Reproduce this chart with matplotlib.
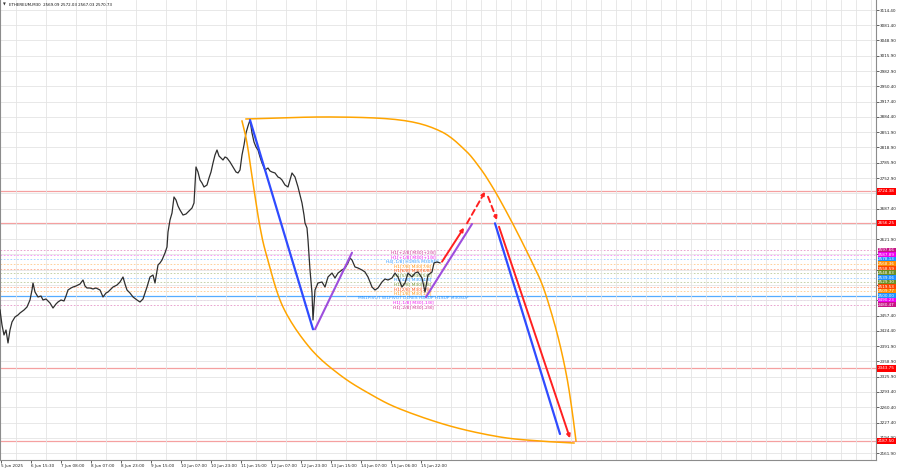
import matplotlib
matplotlib.use("Agg")
import matplotlib.pyplot as plt
import numpy as np
from matplotlib.transforms import blended_transform_factory

# ---------------- data ----------------
bar_x = [0, 2, 4, 6, 8, 10, 12, 15, 18, 20, 24, 27, 30, 32, 33, 35, 38, 41, 43, 46, 50, 53, 56, 58, 61, 64, 66,
         68, 71, 73, 76, 80, 83, 85, 87, 90, 93, 96, 100, 103, 106, 108, 111, 113, 117, 120, 123, 125, 127, 130,
         133, 137, 140, 143, 145, 147, 150, 153, 155, 158, 160, 162, 165, 167, 168, 170, 172, 174, 176, 178, 180,
         183, 186, 189, 192, 194, 195, 196, 198, 200, 202, 204, 207, 209, 211, 213, 215, 217, 219, 221, 223, 225,
         227, 230, 233, 236, 238, 240, 242, 244, 246, 248, 250, 252, 254, 256, 258, 260, 262, 265, 268, 270, 272,
         275, 278, 280, 282, 285, 288, 290, 292, 295, 298, 300, 302, 304, 305, 307, 308, 310, 312, 313, 315, 318,
         322, 325, 328, 332, 335, 338, 342, 345, 348, 350, 352, 355, 358, 362, 365, 368, 372, 375, 378, 382, 385,
         388, 392, 395, 398, 402, 405, 408, 412, 415, 418, 422, 425, 428, 432, 434, 437, 440]
close = [2469.4, 2437.2, 2415.7, 2426.4, 2398.5, 2426.4, 2443.6, 2454.4, 2458.7, 2463.0, 2469.4, 2475.9, 2490.9,
         2512.4, 2527.5, 2508.1, 2497.4, 2499.5, 2490.9, 2493.1, 2484.4, 2473.7, 2482.3, 2486.6, 2490.9, 2488.8,
         2499.5, 2512.4, 2516.7, 2518.8, 2521.0, 2525.3, 2533.9, 2521.0, 2516.7, 2516.7, 2514.6, 2516.7, 2512.4,
         2497.4, 2505.9, 2508.1, 2514.6, 2518.8, 2523.1, 2529.6, 2540.4, 2525.3, 2512.4, 2505.9, 2497.4, 2490.9,
         2486.6, 2493.1, 2505.9, 2518.8, 2540.4, 2544.6, 2527.5, 2566.2, 2570.5, 2576.9, 2592.0, 2604.9, 2637.1,
         2662.9, 2677.9, 2712.4, 2705.9, 2693.0, 2684.4, 2673.6, 2675.8, 2682.3, 2688.7, 2699.4, 2738.2, 2776.9,
         2766.1, 2748.9, 2742.5, 2733.9, 2738.2, 2753.2, 2766.1, 2785.4, 2802.6, 2813.4, 2800.5, 2796.2, 2791.9,
         2798.4, 2796.2, 2787.6, 2776.9, 2766.1, 2764.0, 2770.4, 2802.6, 2824.1, 2849.9, 2865.0, 2877.9, 2849.9,
         2830.6, 2819.9, 2813.4, 2798.4, 2785.4, 2770.4, 2774.7, 2768.3, 2766.1, 2764.0, 2755.3, 2753.2, 2748.9,
         2738.2, 2733.9, 2748.9, 2764.0, 2755.3, 2733.9, 2716.6, 2699.4, 2673.6, 2656.5, 2645.7, 2619.9, 2555.4,
         2505.9, 2447.9, 2512.4, 2527.5, 2529.6, 2518.8, 2540.4, 2548.9, 2538.2, 2548.9, 2555.4, 2559.7, 2570.5,
         2581.2, 2576.9, 2561.9, 2559.7, 2555.4, 2551.1, 2540.4, 2518.8, 2512.4, 2516.7, 2529.6, 2536.1, 2533.9,
         2538.2, 2548.9, 2540.4, 2518.8, 2527.5, 2548.9, 2540.4, 2548.9, 2551.1, 2538.2, 2508.1, 2544.6, 2551.1,
         2570.5, 2572.6, 2570.7]

time_label_pos = [1, 31, 61, 91, 121, 151, 181, 211, 241, 271, 301, 331, 361, 391, 421]
time_labels = ["5 Jun 2025", "6 Jun 15:30", "7 Jun 08:00", "8 Jun 07:00", "8 Jun 23:00", "9 Jun 15:00",
               "10 Jun 07:00", "10 Jun 23:00", "11 Jun 15:00", "12 Jun 07:00", "12 Jun 23:00", "13 Jun 15:00",
               "14 Jun 07:00", "15 Jun 06:00", "15 Jun 22:00"]

price_ticks = [3114.40, 3081.40, 3048.90, 3015.90, 2982.90, 2950.40, 2917.40, 2884.40, 2851.90, 2818.90,
               2785.90, 2752.90, 2720.40, 2687.40, 2654.40, 2621.90, 2588.90, 2555.90, 2523.40, 2490.40,
               2457.40, 2424.40, 2391.90, 2358.90, 2325.90, 2293.40, 2260.40, 2227.40, 2194.90, 2161.90]
hidden_ticks = [2654.40, 2588.90, 2555.90, 2523.40, 2490.40]

red_levels = [2724.38, 2656.25, 2343.75, 2187.50]

murrey_levels = [2597.66, 2587.89, 2578.13, 2568.36, 2558.59, 2548.83, 2539.06, 2529.30, 2519.53, 2509.77,
                 2500.00, 2490.23, 2480.47]
murrey_colors = ["#C71585", "#EE00EE", "#1E90FF", "#FF8C00", "#FF4500", "#6B8E23", "#1E90FF", "#6B8E23",
                 "#FF4500", "#FF8C00", "#1E90FF", "#EE00EE", "#C71585"]
murrey_texts = ["H1[+2/8] M30[+2/8]", "H1[+1/8] M30[+1/8]", "H4[-1/8] H1RES M30RES", "H1[7/8] M30[7/8]",
                "H1[6/8] M30[6/8]", "H1[5/8] M30[5/8]", "H1[4/8] M30[4/8]", "H1[3/8] M30[3/8]",
                "H1[2/8] M30[2/8]", "H1[1/8] M30[1/8]", "MN1PIVOT W1PIVOT D1RES H4SUP H1SUP M30SUP",
                "H1[-1/8] M30[-1/8]", "H1[-2/8] M30[-2/8]"]

# wave drawings (x in bar slots, y in price)
blue_wave1_x, blue_wave1_p = [250, 313], [2877.9, 2427.9]
purple_wave1_x, purple_wave1_p = [315, 352], [2427.9, 2592.6]
purple_wave2_x, purple_wave2_p = [426, 472], [2497.4, 2654.3]
blue_wave2_x, blue_wave2_p = [495, 560], [2655.8, 2202.8]
red_arrow1_x, red_arrow1_p = [442, 464], [2573.2, 2646.4]
red_dash_up_x, red_dash_up_p = [467, 485], [2655.8, 2723.7]
red_dash_dn_x, red_dash_dn_p = [488, 497], [2713.0, 2662.9]
red_arrow2_x, red_arrow2_p = [499, 570], [2648.5, 2193.6]

outer_arc_x = [246, 330, 400, 440, 465, 480, 490, 500, 515, 530, 542, 552, 560, 567, 572, 576]
outer_arc_p = [2880.1, 2884.4, 2877.9, 2854.3, 2813.4, 2774.7, 2742.5, 2705.9, 2645.7, 2581.2, 2525.3,
               2458.7, 2394.2, 2323.2, 2254.4, 2187.8]
inner_arc_x = [242, 247, 253, 260, 267, 283, 310, 340, 370, 400, 450, 500, 540, 574]
inner_arc_p = [2875.7, 2828.5, 2742.5, 2647.9, 2583.4, 2475.9, 2387.7, 2329.7, 2288.8, 2256.6, 2220.0, 2196.4,
               2187.7, 2183.4]

title_text = "ETHEREUM,M30  2569.09 2572.03 2567.03 2570.73"

# ---------------- figure ----------------
W, H = 900, 470
fig = plt.figure(figsize=(W / 100, H / 100), dpi=100)
ax = fig.add_axes([0, 10 / H, 876 / W, 460 / H])
ax.set_xlim(0, 876)
ax.set_ylim(2146.9, 3135.9)

# grid
ax.set_xticks(np.arange(1, 877, 15), minor=True)
ax.grid(True, which="minor", axis="x", color="#E4E4E4", lw=0.6, zorder=0)
ax.grid(True, which="major", axis="y", color="#E4E4E4", lw=0.6, zorder=0)
ax.tick_params(axis="x", which="minor", length=0)

# x ticks
ax.set_xticks(time_label_pos)
ax.set_xticklabels(time_labels, ha="left")
ax.tick_params(axis="x", which="major", labelsize=3, length=2, width=0.5, pad=0.8, colors="#222222")

# y ticks
ax.yaxis.tick_right()
ax.set_yticks(price_ticks)
ax.set_yticklabels(["" if t in hidden_ticks else f"{t:.2f}" for t in price_ticks])
ax.tick_params(axis="y", labelsize=3, length=2, width=0.5, pad=1, colors="#222222")

ax.spines["top"].set_visible(False)
for s in ["left", "right", "bottom"]:
    ax.spines[s].set_color("#8C8C8C")
    ax.spines[s].set_linewidth(0.8)

# horizontal level lines
for lv in red_levels:
    ax.axhline(lv, color="#F5A0A0", lw=0.9, zorder=1)
for lv, c in zip(murrey_levels, murrey_colors):
    if lv == 2500.00:
        ax.axhline(lv, color=c, lw=0.9, alpha=0.75, zorder=1)
    else:
        ax.axhline(lv, color=c, lw=0.6, ls=(0, (2, 2)), alpha=0.45, zorder=1)

# murrey in-chart texts
for lv, c, t in zip(murrey_levels, murrey_colors, murrey_texts):
    ax.text(413, lv - 0.5, t, color=c, fontsize=3.2, ha="center", va="top", zorder=2, alpha=0.9)

# price line
ax.plot(bar_x, close, color="#2E2E2E", lw=0.9, zorder=3)


def smooth(xs, ps, n=12):
    """Catmull-Rom curve through the anchor points (drawing only)."""
    sx = np.asarray(xs, float)
    sy = np.asarray(ps, float) / 2.15
    P = np.column_stack([sx, sy])
    P = np.vstack([2 * P[0] - P[1], P, 2 * P[-1] - P[-2]])
    out = []
    for i in range(1, len(P) - 2):
        p0, p1, p2, p3 = P[i - 1], P[i], P[i + 1], P[i + 2]
        for t in np.linspace(0, 1, n, endpoint=False):
            t2, t3 = t * t, t * t * t
            pt = 0.5 * ((2 * p1) + (-p0 + p2) * t + (2 * p0 - 5 * p1 + 4 * p2 - p3) * t2
                        + (-p0 + 3 * p1 - 3 * p2 + p3) * t3)
            out.append(pt)
    out.append(P[-2])
    out = np.array(out)
    return out[:, 0], out[:, 1] * 2.15


# arcs
ox, op = smooth(outer_arc_x, outer_arc_p)
ix, ip = smooth(inner_arc_x, inner_arc_p)
ax.plot(ox, op, color="#FFA500", lw=1.1, zorder=4)
ax.plot(ix, ip, color="#FFA500", lw=1.1, zorder=4)

# waves
ax.plot(blue_wave1_x, blue_wave1_p, color="#2F4BFF", lw=1.6, zorder=5, solid_capstyle="round")
ax.plot(blue_wave2_x, blue_wave2_p, color="#2F4BFF", lw=1.6, zorder=5, solid_capstyle="round")
ax.plot(purple_wave1_x, purple_wave1_p, color="#9D4EDD", lw=1.5, zorder=5, solid_capstyle="round")
ax.plot(purple_wave2_x, purple_wave2_p, color="#9D4EDD", lw=1.5, zorder=5, solid_capstyle="round")


def arrow(xs, ps, dashed=False):
    ax.annotate("", xy=(xs[1], ps[1]), xytext=(xs[0], ps[0]),
                arrowprops=dict(arrowstyle="-|>", color="#FF2020", lw=1.4, mutation_scale=5,
                                linestyle=(0, (3, 2)) if dashed else "-", shrinkA=0, shrinkB=0),
                zorder=6)


arrow(red_arrow1_x, red_arrow1_p)
arrow(red_dash_up_x, red_dash_up_p, dashed=True)
arrow(red_dash_dn_x, red_dash_dn_p, dashed=True)
arrow(red_arrow2_x, red_arrow2_p)

# right-side price boxes
trans = blended_transform_factory(ax.transAxes, ax.transData)
for lv in red_levels:
    ax.text(1.0025, lv, f"{lv:.2f}", transform=trans, fontsize=3, color="white", ha="left", va="center",
            bbox=dict(boxstyle="square,pad=0.3", fc="#FF0000", ec="none"), clip_on=False, zorder=10)
for lv, c in zip(murrey_levels, murrey_colors):
    ax.text(1.0025, lv, f"{lv:.2f}", transform=trans, fontsize=3, color="white", ha="left", va="center",
            bbox=dict(boxstyle="square,pad=0.15", fc=c, ec="none"), clip_on=False, zorder=10)

# title
fig.text(3 / W, 1 - 5 / H, "\u25BC", fontsize=2.6, va="center", ha="left", color="#333333")
fig.text(9 / W, 1 - 5 / H, title_text, fontsize=2.9, va="center", ha="left", color="#111111")

fig.savefig("out.png", dpi=100, facecolor="white")
